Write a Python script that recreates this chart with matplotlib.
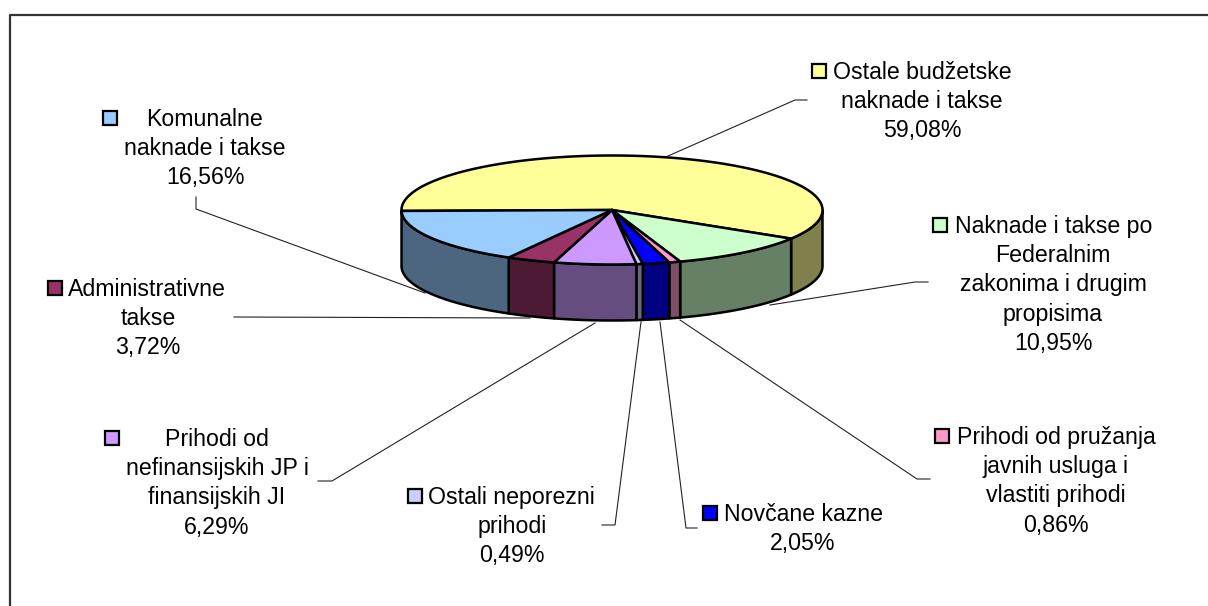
import matplotlib
matplotlib.use("Agg")
import matplotlib.pyplot as plt
import numpy as np
from matplotlib.patches import Rectangle

plt.rcParams["font.family"] = ["Liberation Sans", "DejaVu Sans"]

# podaci
kategorije = [
    "Ostale budžetske\nnaknade i takse",
    "Naknade i takse po\nFederalnim\nzakonima i drugim\npropisima",
    "Prihodi od pružanja\njavnih usluga i\nvlastiti prihodi",
    "Novčane kazne",
    "Ostali neporezni\nprihodi",
    "Prihodi od\nnefinansijskih JP i\nfinansijskih JI",
    "Administrativne\ntakse",
    "Komunalne\nnaknade i takse",
]
procenti = [59.08, 10.95, 0.86, 2.05, 0.49, 6.29, 3.72, 16.56]
boje = ["#FFFF99", "#CCFFCC", "#FF99CC", "#0000FF", "#CCCCFF", "#CC99FF", "#993366", "#99CCFF"]
bojeStrana = ["#80804D", "#668066", "#804D66", "#000080", "#666680", "#664D80", "#4D1A33", "#4D6680"]

# raspored u pikselima: kvadratic x, prva linija x (None = centar), centar teksta, y prve linije
rasporedOznaka = [
    (812, 833, 922, 71),
    (933, 955, 1053, 225),
    (935, 957, 1056, 436),
    (703, 724, 803, 513),
    (408, 428, 512, 496),
    (105, None, 217, 438),
    (48, 68, 148, 288),
    (103, None, 205, 118),
]
vodilice = [
    [(668, 156), (795, 100), (807, 100)],
    [(770, 305), (915, 282), (928, 282)],
    [(680, 320), (917, 479), (930, 479)],
    [(660, 322), (686, 528), (697, 528)],
    [(641, 322), (615, 525), (602, 525)],
    [(595, 323), (332, 481), (318, 481)],
    [(530, 318), (234, 317)],
    [(196, 197), (196, 209), (425, 293)],
]

cx, cy, a, b, dubina = 612, 210, 210.5, 54.5, 56
ugaoPocetni = 181
korakReda = 29.2
debljina = 1.8

fig = plt.figure(figsize=(12.08, 6.06), dpi=100)
ax = fig.add_axes([0, 0, 1, 1])
ax.set_xlim(0, 1208)
ax.set_ylim(606, 0)
ax.axis("off")

ax.plot([10, 10, 1208], [606, 15, 15], color="#333333", lw=1.6, zorder=1, solid_capstyle="butt")

for vod in vodilice:
    xs, ys = zip(*vod)
    ax.plot(xs, ys, color="#222222", lw=0.8, zorder=2)

uglovi = ugaoPocetni - np.cumsum([0] + procenti) * 3.6

# strane kolaca
for i in range(len(procenti)):
    t0 = min(uglovi[i], 0)
    t1 = max(uglovi[i + 1], -180)
    if t0 <= t1:
        continue
    t = np.radians(np.linspace(t0, t1, 80))
    x = cx + a * np.cos(t)
    y = cy - b * np.sin(t)
    ax.fill(np.r_[x, x[::-1]], np.r_[y, y[::-1] + dubina], facecolor=bojeStrana[i],
            edgecolor="black", lw=debljina, joinstyle="round", zorder=3)

# gornja povrsina
for i in range(len(procenti)):
    t = np.radians(np.linspace(uglovi[i], uglovi[i + 1], 200))
    x = np.r_[cx, cx + a * np.cos(t)]
    y = np.r_[cy, cy - b * np.sin(t)]
    ax.fill(x, y, facecolor=boje[i], edgecolor="black", lw=debljina, joinstyle="round", zorder=4)

# oznake
velicina = 16.7
for naziv, vrijednost, boja, (xKv, xPrva, xCentar, yPrva) in zip(kategorije, procenti, boje, rasporedOznaka):
    linije = naziv.split("\n") + [f"{vrijednost:.2f}%".replace(".", ",")]
    ax.add_patch(Rectangle((xKv, yPrva - 7.5), 14, 14, facecolor=boja, edgecolor="black", lw=1.6, zorder=5))
    for j, linija in enumerate(linije):
        y = yPrva + 8 + j * korakReda
        if j == 0 and xPrva is not None:
            ax.text(xPrva, y, linija, ha="left", va="baseline", fontsize=velicina, color="black", zorder=6)
        else:
            ax.text(xCentar, y, linija, ha="center", va="baseline", fontsize=velicina, color="black", zorder=6)

fig.savefig("out.png", dpi=100)
